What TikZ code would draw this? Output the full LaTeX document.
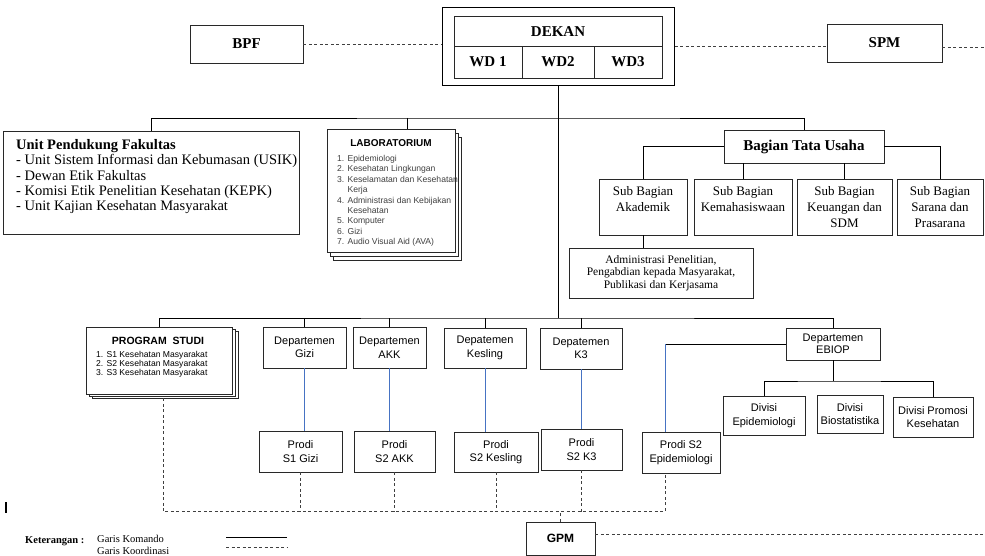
\documentclass[tikz,border=0pt]{standalone}
\usepackage{fontspec}
\setmainfont{Liberation Serif}
\setsansfont{Liberation Sans}
\definecolor{boxline}{RGB}{40,40,40}
\definecolor{linkblue}{RGB}{70,115,195}

\begin{document}
\begin{tikzpicture}[x=1pt,y=-1pt,
    box/.style={draw=boxline,line width=0.9pt,fill=white,inner sep=1pt,align=center},
    stackbox/.style={draw=boxline,line width=0.8pt,fill=white,inner sep=0pt},
    cmd/.style={draw=black,line width=0.8pt},
    coord/.style={draw=black!75,line width=0.7pt,dash pattern=on 3pt off 2.5pt},
    blueline/.style={draw=linkblue,line width=1pt},
    hd/.style={font=\bfseries\fontsize{15}{18}\selectfont},
    sbtext/.style={font=\fontsize{13}{16}\selectfont},
    deptext/.style={font=\sffamily\fontsize{11}{13.5}\selectfont},
    legend/.style={anchor=west,inner sep=0pt,font=\fontsize{10.5}{12}\selectfont}]
  \useasboundingbox (0,0) rectangle (985,556);

  % pimpinan
  \node[box,hd,minimum width=113,minimum height=38] (bpf) at (246.5,44) {BPF};
  \node[draw=black,line width=1pt,minimum width=232,minimum height=78] (dekanbox) at (558,46.5) {};
  \node[box,hd,line width=0.7pt,minimum width=208,minimum height=29.3] (dekan) at (558,31.3) {DEKAN};
  \node[box,hd,line width=0.7pt,minimum width=68,minimum height=32] (wd1) at (488,62) {WD 1};
  \node[box,hd,line width=0.7pt,minimum width=72,minimum height=32] (wd2) at (558,62) {WD2};
  \node[box,hd,line width=0.7pt,minimum width=68,minimum height=32] (wd3) at (628,62) {WD3};
  \node[box,hd,minimum width=115,minimum height=38] (spm) at (884.5,43) {SPM};
  \coordinate (spmend) at (985,47);

  \draw[coord] (bpf.east) -- (bpf.east -| dekanbox.west);
  \draw[coord] (dekanbox.east) -- (dekanbox.east -| spm.west);
  \draw[coord] (spm.east |- spmend) -- (spmend);

  % unit pendukung dan laboratorium
  \node[box,minimum width=296,minimum height=103] (upf) at (151,182.5) {};
  \node[anchor=north west,inner sep=0pt,align=left,font=\fontsize{14.5}{15.4}\selectfont] (upftext) at (16,139)
    {\textbf{Unit Pendukung Fakultas}\\
     - Unit Sistem Informasi dan Kebumasan (USIK)\\
     - Dewan Etik Fakultas\\
     - Komisi Etik Penelitian Kesehatan (KEPK)\\
     - Unit Kajian Kesehatan Masyarakat};

  \node[stackbox,minimum width=128,minimum height=123] (lab3) at (397,198.5) {};
  \node[stackbox,minimum width=128,minimum height=123] (lab2) at (394,194.5) {};
  \node[stackbox,minimum width=128,minimum height=123] (lab) at (391,190.5) {};
  \node[font=\sffamily\bfseries\fontsize{10}{12}\selectfont] (labtitle) at (391,143) {LABORATORIUM};
  \node[anchor=north west,inner sep=0pt,align=left,text=black!75,font=\sffamily\fontsize{8.6}{10.4}\selectfont] (labitems) at (337,155)
    {1. Epidemiologi\\
     2. Kesehatan Lingkungan\\
     3. Keselamatan dan Kesehatan\\
     \phantom{3. }Kerja\\
     4. Administrasi dan Kebijakan\\
     \phantom{4. }Kesehatan\\
     5. Komputer\\
     6. Gizi\\
     7. Audio Visual Aid (AVA)};

  % tata usaha
  \node[box,font=\bfseries\fontsize{15}{18}\selectfont,minimum width=160,minimum height=33] (btu) at (804,146.5) {Bagian Tata Usaha};
  \node[box,sbtext,minimum width=88,minimum height=56] (sb1) at (643,207) {Sub Bagian\\Akademik\\\mbox{}};
  \node[box,sbtext,minimum width=98,minimum height=56] (sb2) at (743,207) {Sub Bagian\\Kemahasiswaan\\\mbox{}};
  \node[box,sbtext,minimum width=95,minimum height=56] (sb3) at (844.5,207) {Sub Bagian\\Keuangan dan\\SDM};
  \node[box,sbtext,minimum width=86,minimum height=56] (sb4) at (940,207) {Sub Bagian\\Sarana dan\\Prasarana};
  \node[box,font=\fontsize{11.5}{12.6}\selectfont,minimum width=184,minimum height=50] (admin) at (661,273)
    {Administrasi Penelitian,\\Pengabdian kepada Masyarakat,\\Publikasi dan Kerjasama};

  % departemen
  \node[stackbox,minimum width=146,minimum height=67] (ps3) at (165,364.5) {};
  \node[stackbox,minimum width=146,minimum height=67] (ps2) at (162,362.5) {};
  \node[stackbox,minimum width=146,minimum height=67] (ps) at (159,360.5) {};
  \node[font=\sffamily\bfseries\fontsize{10.5}{12}\selectfont] (pstitle) at (158,341) {PROGRAM\ \ STUDI};
  \node[anchor=north west,inner sep=0pt,align=left,font=\sffamily\fontsize{8.6}{7.9}\selectfont] (psitems) at (96,351)
    {1. S1 Kesehatan Masyarakat\\
     2. S2 Kesehatan Masyarakat\\
     3. S3 Kesehatan Masyarakat};

  \node[box,deptext,minimum width=83,minimum height=41] (dgizi) at (304.5,347.5) {Departemen\\Gizi};
  \node[box,deptext,minimum width=73,minimum height=41] (dakk) at (389.5,347.5) {Departemen\\AKK};
  \node[box,deptext,minimum width=82,minimum height=40] (dkesling) at (485,348) {Depatemen\\Kesling};
  \node[box,deptext,minimum width=82,minimum height=41] (dk3) at (581,348.5) {Depatemen\\K3};
  \node[box,font=\sffamily\fontsize{11}{12.5}\selectfont,minimum width=94,minimum height=32] (debiop) at (833,344) {Departemen\\EBIOP};

  \node[box,deptext,minimum width=82,minimum height=39] (dvepid) at (764,415.5) {Divisi\\Epidemiologi};
  \node[box,deptext,minimum width=66,minimum height=38] (dvbio) at (850,414) {Divisi\\Biostatistika};
  \node[box,deptext,minimum width=80,minimum height=40] (dvpro) at (933,417) {Divisi Promosi\\Kesehatan};

  % prodi
  \node[box,deptext,minimum width=83,minimum height=41] (pgizi) at (300.5,451.5) {Prodi\\S1 Gizi};
  \node[box,deptext,minimum width=81,minimum height=41] (pakk) at (394.5,451.5) {Prodi\\S2 AKK};
  \node[box,deptext,minimum width=84,minimum height=40] (pkesling) at (496,452) {Prodi\\S2 Kesling};
  \node[box,deptext,minimum width=81,minimum height=41] (pk3) at (581.5,449.5) {Prodi\\S2 K3};
  \node[box,deptext,minimum width=78,minimum height=41] (pepid) at (681,452.5) {Prodi S2\\Epidemiologi};

  \node[box,font=\sffamily\bfseries\fontsize{12}{14}\selectfont,minimum width=69,minimum height=33] (gpm) at (560.5,538.5) {GPM};

  % garis komando
  \coordinate (hub1) at (558,118);
  \coordinate (hub2) at (558,318);
  \coordinate (labtop) at (407,118);
  \coordinate (ebiopbend) at (665,344);
  \coordinate (divbar) at (830,381);
  \draw[cmd] (dekanbox.south) -- (hub2);
  \draw[cmd] (upf.north) |- (hub1) -| (btu.north);
  \draw[cmd] (labtop) -- (labtop |- lab.north);
  \draw[cmd] (btu.west) -| (sb1.north);
  \draw[cmd] (btu.east) -| (sb4.north);
  \draw[cmd] (btu.south -| sb2.north) -- (sb2.north);
  \draw[cmd] (btu.south -| sb3.north) -- (sb3.north);
  \draw[cmd] (sb1.south) -- (sb1.south |- admin.north);
  \draw[cmd] (ps.north) |- (hub2) -| (debiop.north);
  \foreach \d in {dgizi,dakk,dkesling,dk3}
    \draw[cmd] (\d.north) -- (\d.north |- hub2);
  \draw[cmd] (debiop.west) -- (ebiopbend);
  \draw[cmd] (debiop.south) -- (debiop.south |- divbar);
  \draw[cmd] (dvepid.north) |- (divbar) -| (dvpro.north);
  \foreach \d/\p in {dgizi/pgizi,dakk/pakk,dkesling/pkesling,dk3/pk3}
    \draw[blueline] (\d.south) -- (\d.south |- \p.north);
  \draw[blueline] (ebiopbend) -- (ebiopbend |- pepid.north);

  % garis koordinasi
  \coordinate (gbar) at (163,511.5);
  \coordinate (gpmend) at (985,534);
  \draw[coord] (gbar |- ps3.south) -- (gbar) -- (ebiopbend |- gbar) -- (ebiopbend |- pepid.south);
  \foreach \p in {pgizi,pakk,pkesling,pk3}
    \draw[coord] (\p.south) -- (\p.south |- gbar);
  \draw[coord] (gpm.north) -- (gpm.north |- gbar);
  \draw[coord] (gpm.east |- gpmend) -- (gpmend);

  % keterangan
  \draw[line width=1.2pt] (6,502) -- (6,513);
  \node[legend,font=\bfseries\fontsize{10.5}{12}\selectfont] (ket) at (25,541) {Keterangan :};
  \node[legend] (komando) at (97,539) {Garis Komando};
  \node[legend] (koordinasi) at (97,551) {Garis Koordinasi};
  \coordinate (kl1) at (226,537);
  \coordinate (kl2) at (287,537);
  \coordinate (kd1) at (226,547);
  \coordinate (kd2) at (287,547);
  \draw[cmd] (kl1) -- (kl2);
  \draw[coord] (kd1) -- (kd2);
\end{tikzpicture}
\end{document}
